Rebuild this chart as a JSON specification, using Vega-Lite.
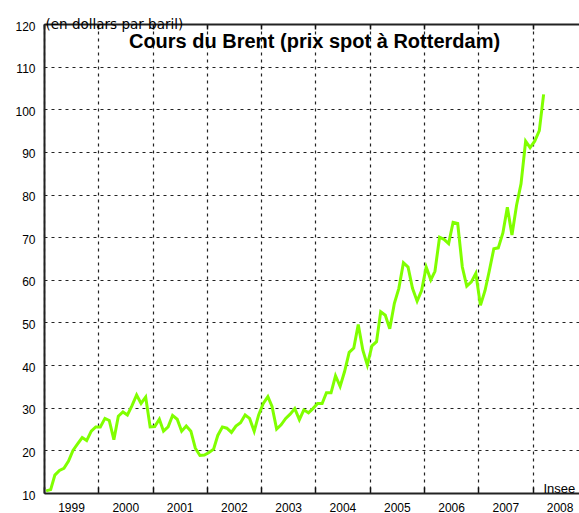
{
  "$schema": "https://vega.github.io/schema/vega-lite/v6.json",
  "width": 535,
  "height": 469,
  "autosize": {"type": "none"},
  "padding": {"left": 44, "top": 24, "right": 0, "bottom": 20},
  "background": "white",
  "config": {"view": {"stroke": null}, "font": "Liberation Sans"},
  "title": {
    "text": "Cours du Brent (prix spot à Rotterdam)",
    "fontSize": 20,
    "fontWeight": "bold",
    "font": "Liberation Sans",
    "anchor": "middle",
    "frame": "group",
    "offset": -51,
    "baseline": "alphabetic",
    "color": "black",
    "dx": 3
  },
  "data": {
    "values": [
      {"date": "1999-01-15", "price": 10.5}, {"date": "1999-02-15", "price": 10.8}, {"date": "1999-03-15", "price": 14.2}, {"date": "1999-04-15", "price": 15.3}, {"date": "1999-05-15", "price": 15.8}, {"date": "1999-06-15", "price": 17.5}, {"date": "1999-07-15", "price": 20.0}, {"date": "1999-08-15", "price": 21.5}, {"date": "1999-09-15", "price": 23.0}, {"date": "1999-10-15", "price": 22.3}, {"date": "1999-11-15", "price": 24.5}, {"date": "1999-12-15", "price": 25.5},
      {"date": "2000-01-15", "price": 25.5}, {"date": "2000-02-15", "price": 27.5}, {"date": "2000-03-15", "price": 27.0}, {"date": "2000-04-15", "price": 22.5}, {"date": "2000-05-15", "price": 28.0}, {"date": "2000-06-15", "price": 29.0}, {"date": "2000-07-15", "price": 28.3}, {"date": "2000-08-15", "price": 30.5}, {"date": "2000-09-15", "price": 33.0}, {"date": "2000-10-15", "price": 31.0}, {"date": "2000-11-15", "price": 32.5}, {"date": "2000-12-15", "price": 25.5},
      {"date": "2001-01-15", "price": 25.6}, {"date": "2001-02-15", "price": 27.3}, {"date": "2001-03-15", "price": 24.5}, {"date": "2001-04-15", "price": 25.5}, {"date": "2001-05-15", "price": 28.2}, {"date": "2001-06-15", "price": 27.3}, {"date": "2001-07-15", "price": 24.5}, {"date": "2001-08-15", "price": 25.7}, {"date": "2001-09-15", "price": 24.5}, {"date": "2001-10-15", "price": 20.5}, {"date": "2001-11-15", "price": 18.8}, {"date": "2001-12-15", "price": 18.9},
      {"date": "2002-01-15", "price": 19.5}, {"date": "2002-02-15", "price": 20.3}, {"date": "2002-03-15", "price": 23.5}, {"date": "2002-04-15", "price": 25.5}, {"date": "2002-05-15", "price": 25.2}, {"date": "2002-06-15", "price": 24.2}, {"date": "2002-07-15", "price": 25.7}, {"date": "2002-08-15", "price": 26.5}, {"date": "2002-09-15", "price": 28.3}, {"date": "2002-10-15", "price": 27.5}, {"date": "2002-11-15", "price": 24.5}, {"date": "2002-12-15", "price": 28.3},
      {"date": "2003-01-15", "price": 31.0}, {"date": "2003-02-15", "price": 32.6}, {"date": "2003-03-15", "price": 30.3}, {"date": "2003-04-15", "price": 25.0}, {"date": "2003-05-15", "price": 26.0}, {"date": "2003-06-15", "price": 27.5}, {"date": "2003-07-15", "price": 28.5}, {"date": "2003-08-15", "price": 29.8}, {"date": "2003-09-15", "price": 27.2}, {"date": "2003-10-15", "price": 29.5}, {"date": "2003-11-15", "price": 28.8}, {"date": "2003-12-15", "price": 29.8},
      {"date": "2004-01-15", "price": 31.0}, {"date": "2004-02-15", "price": 31.0}, {"date": "2004-03-15", "price": 33.5}, {"date": "2004-04-15", "price": 33.5}, {"date": "2004-05-15", "price": 37.5}, {"date": "2004-06-15", "price": 35.0}, {"date": "2004-07-15", "price": 38.5}, {"date": "2004-08-15", "price": 43.0}, {"date": "2004-09-15", "price": 44.0}, {"date": "2004-10-15", "price": 49.5}, {"date": "2004-11-15", "price": 43.5}, {"date": "2004-12-15", "price": 40.0},
      {"date": "2005-01-15", "price": 44.5}, {"date": "2005-02-15", "price": 45.5}, {"date": "2005-03-15", "price": 52.5}, {"date": "2005-04-15", "price": 51.7}, {"date": "2005-05-15", "price": 48.5}, {"date": "2005-06-15", "price": 54.5}, {"date": "2005-07-15", "price": 58.0}, {"date": "2005-08-15", "price": 64.0}, {"date": "2005-09-15", "price": 63.0}, {"date": "2005-10-15", "price": 58.0}, {"date": "2005-11-15", "price": 55.0}, {"date": "2005-12-15", "price": 57.5},
      {"date": "2006-01-15", "price": 63.0}, {"date": "2006-02-15", "price": 60.0}, {"date": "2006-03-15", "price": 62.0}, {"date": "2006-04-15", "price": 70.0}, {"date": "2006-05-15", "price": 69.5}, {"date": "2006-06-15", "price": 68.5}, {"date": "2006-07-15", "price": 73.5}, {"date": "2006-08-15", "price": 73.2}, {"date": "2006-09-15", "price": 63.0}, {"date": "2006-10-15", "price": 58.5}, {"date": "2006-11-15", "price": 59.5}, {"date": "2006-12-15", "price": 61.5},
      {"date": "2007-01-15", "price": 54.0}, {"date": "2007-02-15", "price": 57.5}, {"date": "2007-03-15", "price": 62.0}, {"date": "2007-04-15", "price": 67.3}, {"date": "2007-05-15", "price": 67.5}, {"date": "2007-06-15", "price": 71.0}, {"date": "2007-07-15", "price": 77.0}, {"date": "2007-08-15", "price": 70.5}, {"date": "2007-09-15", "price": 77.5}, {"date": "2007-10-15", "price": 82.5}, {"date": "2007-11-15", "price": 92.5}, {"date": "2007-12-15", "price": 91.0},
      {"date": "2008-01-15", "price": 92.5}, {"date": "2008-02-15", "price": 95.0}, {"date": "2008-03-15", "price": 103.5}
    ]
  },
  "encoding": {
    "y": {
      "field": "price",
      "type": "quantitative",
      "scale": {"domain": [10, 120], "nice": false, "zero": false},
      "axis": {
        "values": [10, 20, 30, 40, 50, 60, 70, 80, 90, 100, 110, 120],
        "grid": true,
        "gridDash": [3, 4],
        "gridColor": "#222222",
        "gridWidth": 1.2,
        "gridOpacity": 1,
        "domain": true,
        "domainColor": "#222222",
        "domainWidth": 2,
        "ticks": false,
        "labelPadding": 9,
        "labelFontSize": 12,
        "labelColor": "black",
        "labelOffset": 2,
        "title": "(en dollars  par baril)",
        "titleFont": "DejaVu Sans",
        "titleAngle": 0,
        "titleAlign": "left",
        "titleBaseline": "alphabetic",
        "titleX": 1,
        "titleY": 4,
        "titleFontSize": 13.5,
        "titleFontWeight": "normal",
        "titleColor": "black"
      }
    }
  },
  "layer": [
    {
      "mark": {"type": "line", "color": "#80ff00", "strokeWidth": 3, "clip": true},
      "encoding": {
        "x": {
          "field": "date",
          "type": "temporal",
          "scale": {"type": "utc", "domain": [{"year": 1999, "month": 1, "date": 1, "utc": true}, {"year": 2008, "month": 11, "date": 8, "utc": true}]},
          "axis": {
            "orient": "bottom",
            "tickCount": {"interval": "year", "step": 1},
            "format": "%Y",
            "formatType": "utc",
            "grid": true,
            "gridDash": [3, 4],
            "gridColor": "#222222",
            "gridWidth": 1.2,
            "gridOpacity": 1,
            "domain": true,
            "domainColor": "#222222",
            "domainWidth": 2,
            "ticks": true,
            "tickSize": -6,
            "tickColor": "#111111",
            "tickWidth": 1.5,
            "labelOffset": 27,
            "labelFlush": false,
            "labelOverlap": false,
            "labelBound": false,
            "labelPadding": 15,
            "labelFontSize": 12,
            "labelBaseline": "top",
            "labelColor": "black",
            "title": "Insee",
            "titleX": 499,
            "titleY": -1,
            "titleAlign": "left",
            "titleBaseline": "alphabetic",
            "titleFontSize": 13,
            "titleFontWeight": "normal",
            "titleColor": "black"
          }
        }
      }
    },
    {
      "mark": {"type": "line", "opacity": 0, "clip": true},
      "encoding": {
        "x": {
          "field": "date",
          "type": "temporal",
          "scale": {"type": "utc", "domain": [{"year": 1999, "month": 1, "date": 1, "utc": true}, {"year": 2008, "month": 11, "date": 8, "utc": true}]},
          "axis": {
            "orient": "top",
            "tickCount": {"interval": "year", "step": 1},
            "labels": false,
            "grid": false,
            "domain": true,
            "domainColor": "#222222",
            "domainWidth": 2,
            "ticks": true,
            "tickSize": -5,
            "tickColor": "#111111",
            "tickWidth": 1.5,
            "title": null
          }
        }
      }
    }
  ],
  "resolve": {"axis": {"x": "independent"}}
}
